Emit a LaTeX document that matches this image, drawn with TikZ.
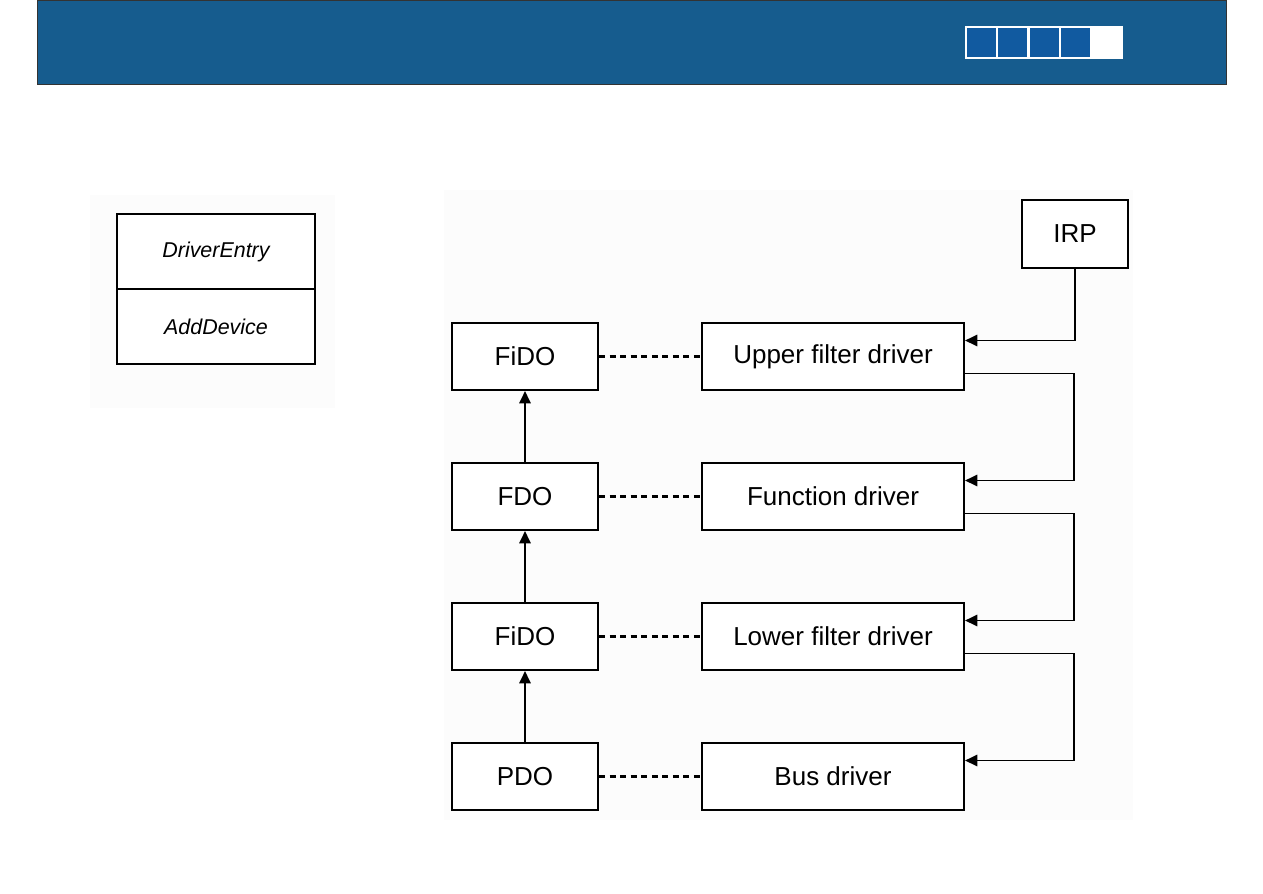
\documentclass[tikz,border=0pt]{standalone}
\usepackage{fontspec}
\setmainfont{Liberation Sans}
\usepackage{tikz}
\usetikzlibrary{arrows.meta,positioning}

\definecolor{hdrblue}{RGB}{22,92,142}
\definecolor{tabblue}{RGB}{17,90,160}

\begin{document}
\begin{tikzpicture}[
  font=\fontsize{14.8}{18}\selectfont,
  >={Triangle[length=7pt,width=6.5pt]},
  objbox/.style={draw, line width=1.2pt, fill=white, align=center, minimum width=2.92cm, minimum height=1.34cm, inner sep=0pt},
  drvbox/.style={draw, line width=1.2pt, fill=white, align=center, minimum width=5.24cm, minimum height=1.34cm, inner sep=0pt},
  irpbox/.style={draw, line width=1.2pt, fill=white, align=center, minimum width=2.12cm, minimum height=1.36cm, inner sep=0pt},
  fnbox/.style={draw, line width=1.1pt, fill=white, align=center, minimum width=3.96cm, minimum height=1.5cm, inner sep=0pt, font=\fontsize{12.2}{14}\selectfont\itshape},
  arr/.style={->, line width=1pt},
  link/.style={line width=1.3pt, dash pattern=on 3.4pt off 2.6pt}
]
\useasboundingbox[fill=white] (0,0) rectangle (25.26,-17.86);
% header bar
\draw[fill=hdrblue, draw=black!80, line width=0.5pt] (0.74,0) rectangle (24.52,-1.68);
\fill[white] (19.3,-0.52) rectangle (22.46,-1.17);
\foreach \i in {0,1,2,3}
  \fill[tabblue] (19.33+0.63*\i,-0.56) rectangle ++(0.58,-0.57);
% panels
\fill[gray!2] (1.8,-3.9) rectangle (6.7,-8.16);
\fill[gray!2] (8.88,-3.8) rectangle (22.66,-16.4);

\node[fnbox] (entry) at (4.32,-5.03) {DriverEntry};
\node[fnbox] (adddev) at (4.32,-6.53) {AddDevice};

\node[irpbox] (irp) at (21.5,-4.68) {IRP};

\node[objbox] (fido1) at (10.5,-7.13) {FiDO};
\node[objbox] (fdo) at (10.5,-9.93) {FDO};
\node[objbox] (fido2) at (10.5,-12.73) {FiDO};
\node[objbox] (pdo) at (10.5,-15.53) {PDO};

\node[drvbox] (upper) at (16.66,-7.13) {Upper filter driver};
\node[drvbox] (func) at (16.66,-9.93) {Function driver};
\node[drvbox] (lower) at (16.66,-12.73) {Lower filter driver};
\node[drvbox] (bus) at (16.66,-15.53) {Bus driver};

\draw[arr] (pdo) -- (fido2);
\draw[arr] (fido2) -- (fdo);
\draw[arr] (fdo) -- (fido1);

\draw[link] (fido1) -- (upper);
\draw[link] (fdo) -- (func);
\draw[link] (fido2) -- (lower);
\draw[link] (pdo) -- (bus);

\draw[arr] (irp.south) |- ([yshift=0.32cm]upper.east);
\draw[arr] ([yshift=-0.34cm]upper.east) -- ++(2.18,0) |- ([yshift=0.32cm]func.east);
\draw[arr] ([yshift=-0.34cm]func.east) -- ++(2.18,0) |- ([yshift=0.32cm]lower.east);
\draw[arr] ([yshift=-0.34cm]lower.east) -- ++(2.18,0) |- ([yshift=0.32cm]bus.east);
\end{tikzpicture}
\end{document}
